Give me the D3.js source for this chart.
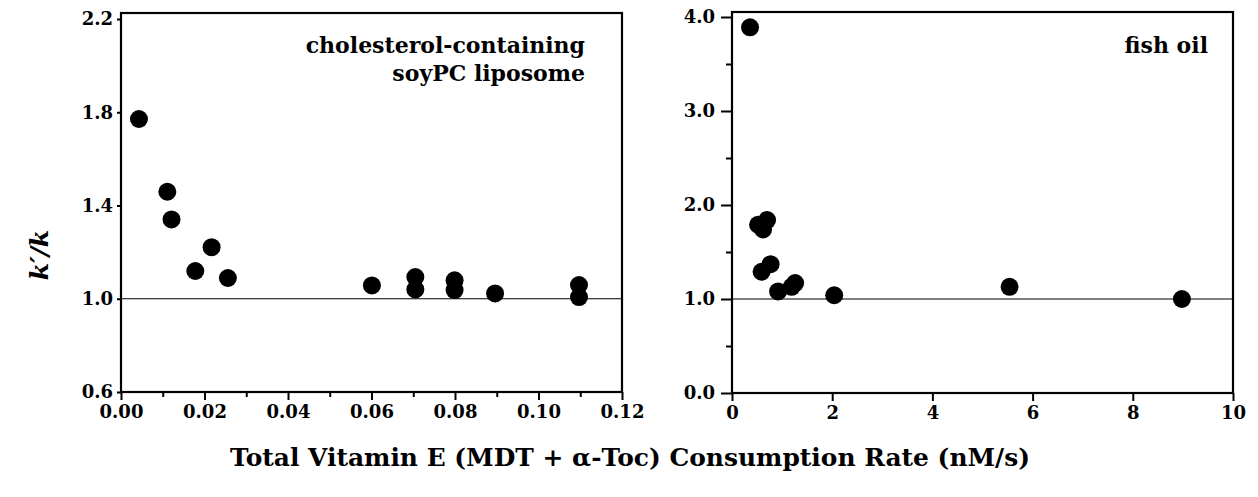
<!DOCTYPE html>
<html>
<head>
<meta charset="utf-8">
<script src="https://cdn.jsdelivr.net/npm/d3@7"></script>
<style>
  body { margin: 0; background: #fff; }
  svg { display: block; }
  text { font-family: "DejaVu Serif", "Liberation Serif", serif; font-weight: bold; fill: #000; }
</style>
</head>
<body>
<svg id="chart" width="1258" height="497"></svg>
<script>
// left panel: cholesterol-containing soyPC liposome
var soyX = [0.0043, 0.0111, 0.0121, 0.0178, 0.0217, 0.0256, 0.0601, 0.0705, 0.0705, 0.0799, 0.0799, 0.0896, 0.1097, 0.1097];
var soyY = [1.771, 1.459, 1.340, 1.119, 1.221, 1.089, 1.057, 1.093, 1.040, 1.079, 1.037, 1.023, 1.059, 1.007];

// right panel: fish oil
var fishX = [0.36, 0.52, 0.62, 0.70, 0.59, 0.77, 0.92, 1.19, 1.26, 2.04, 5.54, 8.98];
var fishY = [3.89, 1.79, 1.74, 1.84, 1.29, 1.37, 1.08, 1.13, 1.17, 1.04, 1.13, 1.00];

var soyXTicks = [0, 0.02, 0.04, 0.06, 0.08, 0.10, 0.12];
var soyXMinor = [0.01, 0.03, 0.05, 0.07, 0.09, 0.11];
var soyYTicks = [0.6, 1.0, 1.4, 1.8, 2.2];
var fishXTicks = [0, 2, 4, 6, 8, 10];
var fishYTicks = [0, 1, 2, 3, 4];
var fishYMinor = [0.5, 1.5, 2.5, 3.5];

var svg = d3.select("#chart");

function panel(opt) {
  var x = d3.scaleLinear().domain(opt.xDomain).range(opt.xRange);
  var y = d3.scaleLinear().domain(opt.yDomain).range(opt.yRange);
  var g = svg.append("g");

  // minor ticks first
  var xm = g.append("g").attr("transform", "translate(0," + opt.yRange[0] + ")")
    .call(d3.axisBottom(x).tickValues(opt.xMinor || []).tickSize(5).tickFormat(""));
  xm.select(".domain").remove();
  var ym = g.append("g").attr("transform", "translate(" + opt.xRange[0] + ",0)")
    .call(d3.axisLeft(y).tickValues(opt.yMinor || []).tickSize(6).tickFormat(""));
  ym.select(".domain").remove();

  var xa = g.append("g").attr("transform", "translate(0," + opt.yRange[0] + ")")
    .call(d3.axisBottom(x).tickValues(opt.xTicks).tickSize(8).tickPadding(5).tickFormat(opt.xFormat));
  xa.select(".domain").remove();
  xa.selectAll("text").style("font-size", "18px");

  var ya = g.append("g").attr("transform", "translate(" + opt.xRange[0] + ",0)")
    .call(d3.axisLeft(y).tickValues(opt.yTicks).tickSize(opt.yTickSize).tickPadding(opt.yPad).tickFormat(d3.format(".1f")));
  ya.select(".domain").remove();
  ya.selectAll("text").style("font-size", "18px");

  g.selectAll(".tick line").attr("stroke", "#000").attr("stroke-width", 2);

  // reference line k'/k = 1
  g.append("line")
    .attr("x1", opt.xRange[0]).attr("x2", opt.xRange[1])
    .attr("y1", y(1)).attr("y2", y(1))
    .attr("stroke", "#000").attr("stroke-width", 1);

  // frame
  g.append("rect")
    .attr("x", opt.xRange[0]).attr("y", opt.frameTop)
    .attr("width", opt.xRange[1] - opt.xRange[0])
    .attr("height", opt.yRange[0] - opt.frameTop)
    .attr("fill", "none").attr("stroke", "#000").attr("stroke-width", 2.2);

  g.selectAll("circle.pt").data(opt.xs)
    .enter().append("circle")
    .attr("class", "pt")
    .attr("cx", function(d) { return x(d); })
    .attr("cy", function(d, i) { return y(opt.ys[i]); })
    .attr("r", 9)
    .attr("fill", "#000");

  g.selectAll("text.note").data(opt.notes)
    .enter().append("text")
    .attr("class", "note")
    .attr("x", opt.noteX)
    .attr("y", function(d, i) { return opt.noteY + i * 28; })
    .attr("text-anchor", "end")
    .style("font-size", "22px")
    .text(function(d) { return d; });
}

panel({
  xDomain: [0, 0.12], xRange: [121, 622],
  yDomain: [0.6, 2.2], yRange: [392, 19],
  frameTop: 13,
  xTicks: soyXTicks, xMinor: soyXMinor, xFormat: d3.format(".2f"),
  yTicks: soyYTicks, yTickSize: 4, yPad: 4,
  xs: soyX, ys: soyY,
  notes: ["cholesterol-containing", "soyPC liposome"], noteX: 585, noteY: 53
});

panel({
  xDomain: [0, 10], xRange: [732, 1233],
  yDomain: [0, 4], yRange: [393, 17],
  frameTop: 12,
  xTicks: fishXTicks, xMinor: [], xFormat: d3.format("d"),
  yTicks: fishYTicks, yMinor: fishYMinor, yTickSize: 11, yPad: 6,
  xs: fishX, ys: fishY,
  notes: ["fish oil"], noteX: 1208, noteY: 53
});

// axis titles
var xt = svg.append("text")
  .attr("x", 630).attr("y", 466)
  .attr("text-anchor", "middle")
  .style("font-size", "22px")
  .text("Total Vitamin E (MDT + \u03b1-Toc) Consumption Rate (nM/s)");
var w = xt.node().getComputedTextLength();
xt.style("font-size", (22 * 800 / w).toFixed(2) + "px");

var yt = svg.append("text")
  .attr("transform", "translate(48,255) rotate(-90)")
  .attr("text-anchor", "middle")
  .style("font-size", "25px")
  .style("font-style", "italic");
yt.append("tspan").text("k\u2032/k");
</script>
</body>
</html>
